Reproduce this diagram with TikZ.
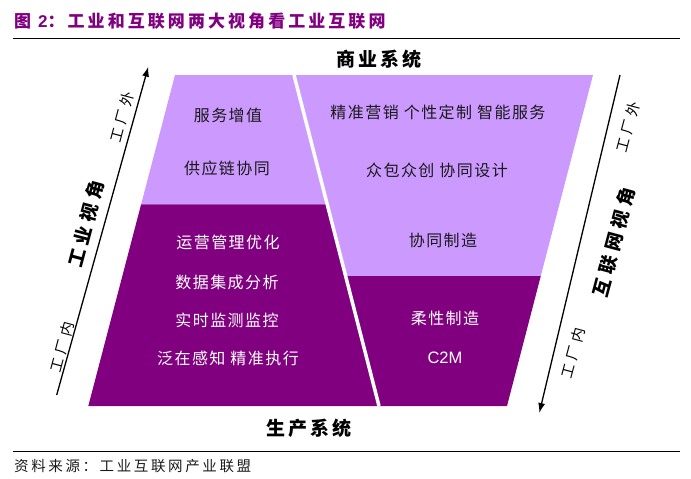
\documentclass[tikz,border=0pt]{standalone}
\usepackage{fontspec}
\setmainfont{Noto Sans CJK SC}
\newfontfamily\latinsans{Liberation Sans}
\usetikzlibrary{arrows.meta,calc}
\definecolor{lightpurple}{HTML}{CC99FF}
\definecolor{darkpurple}{HTML}{800080}
\definecolor{titlepurple}{HTML}{800080}
\definecolor{darktext}{HTML}{1A1A1A}
\begin{document}
\begin{tikzpicture}[x=1pt,y=-1pt,
  bodytext/.style={font=\fontsize{16}{19}\selectfont\addfontfeatures{LetterSpace=9}, inner sep=0},
  lighttext/.style={bodytext, text=darktext},
  darktext/.style={bodytext, text=white},
  headtext/.style={font=\fontsize{19}{22}\selectfont\bfseries\addfontfeatures{LetterSpace=17}, inner sep=0, text=black},
  viewtext/.style={font=\fontsize{18.5}{21}\selectfont\bfseries\addfontfeatures{LetterSpace=27}, inner sep=0, text=black, rotate=75},
  sidetext/.style={font=\fontsize{14.5}{17}\selectfont\addfontfeatures{LetterSpace=30}, inner sep=0, text=black, rotate=75},
  axisarrow/.style={draw=black, line width=1.3, -{Latex[length=10pt,width=7pt]}},
  rule/.style={draw=black, line width=1}]
\useasboundingbox (0,0) rectangle (691,479);
% title and rules
\node[anchor=west, inner sep=0, text=titlepurple, font=\fontsize{17}{20}\selectfont\bfseries\addfontfeatures{LetterSpace=18}] (title) at (14,21) {图 {\latinsans 2}：工业和互联网两大视角看工业互联网};
\coordinate (r1a) at (13,38); \coordinate (r1b) at (680,38);
\coordinate (r2a) at (13,451); \coordinate (r2b) at (680,451);
\draw[rule] (r1a) -- (r1b);
\draw[rule] (r2a) -- (r2b);
\node[anchor=west, inner sep=0, text=darktext, font=\fontsize{14.5}{17}\selectfont\addfontfeatures{LetterSpace=18}] (source) at (14,466) {资料来源：工业互联网产业联盟};
% shape corners
\coordinate (TL) at (175,75); \coordinate (BL) at (88.3,406);
\coordinate (DT) at (294,75); \coordinate (DB) at (379,406);
\coordinate (TR) at (593,75); \coordinate (BR) at (507,406);
\fill[lightpurple] (TL) -- (DT) -- ($(DT)!0.3906!(DB)$) -- ($(TL)!0.3906!(BL)$) -- cycle;
\fill[darkpurple] ($(TL)!0.3906!(BL)$) -- ($(DT)!0.3906!(DB)$) -- (DB) -- (BL) -- cycle;
\fill[lightpurple] (DT) -- (TR) -- ($(TR)!0.6073!(BR)$) -- ($(DT)!0.6073!(DB)$) -- cycle;
\fill[darkpurple] ($(DT)!0.6073!(DB)$) -- ($(TR)!0.6073!(BR)$) -- (BR) -- (DB) -- cycle;
\draw[white, line width=3.5] (DT) -- (DB);
% headings
\node[headtext] (biz) at (379,59) {商业系统};
\node[headtext] (prod) at (309,428) {生产系统};
% left texts
\node[lighttext] (l1) at (228,115) {服务增值};
\node[lighttext] (l2) at (227,168) {供应链协同};
\node[darktext] (l3) at (228,242) {运营管理优化};
\node[darktext] (l4) at (227,282) {数据集成分析};
\node[darktext] (l5) at (227,320) {实时监测监控};
\node[darktext] (l6) at (228,358) {泛在感知 精准执行};
% right texts
\node[lighttext] (r1) at (438,112) {精准营销 个性定制 智能服务};
\node[lighttext] (r2) at (437,170) {众包众创 协同设计};
\node[lighttext] (r3) at (443,240) {协同制造};
\node[darktext] (r4) at (445,318) {柔性制造};
\node[inner sep=0, text=white, font=\latinsans\fontsize{16.5}{19}\selectfont] (r5) at (445,358) {C2M};
% arrows
\coordinate (la) at (56.7,395); \coordinate (lb) at (148.3,66.7);
\coordinate (ra) at (620,75); \coordinate (rb) at (539.3,413);
\draw[axisarrow] (la) -- (lb);
\draw[axisarrow] (ra) -- (rb);
% arrow labels
\node[sidetext] (lout) at (122,117) {工厂外};
\node[viewtext] (lview) at (86,224) {工业视角};
\node[sidetext] (lin) at (62,347) {工厂内};
\node[sidetext] (rout) at (628,127) {工厂外};
\node[viewtext] (rview) at (614,242) {互联网视角};
\node[sidetext] (rin) at (573,353) {工厂内};
\end{tikzpicture}
\end{document}
